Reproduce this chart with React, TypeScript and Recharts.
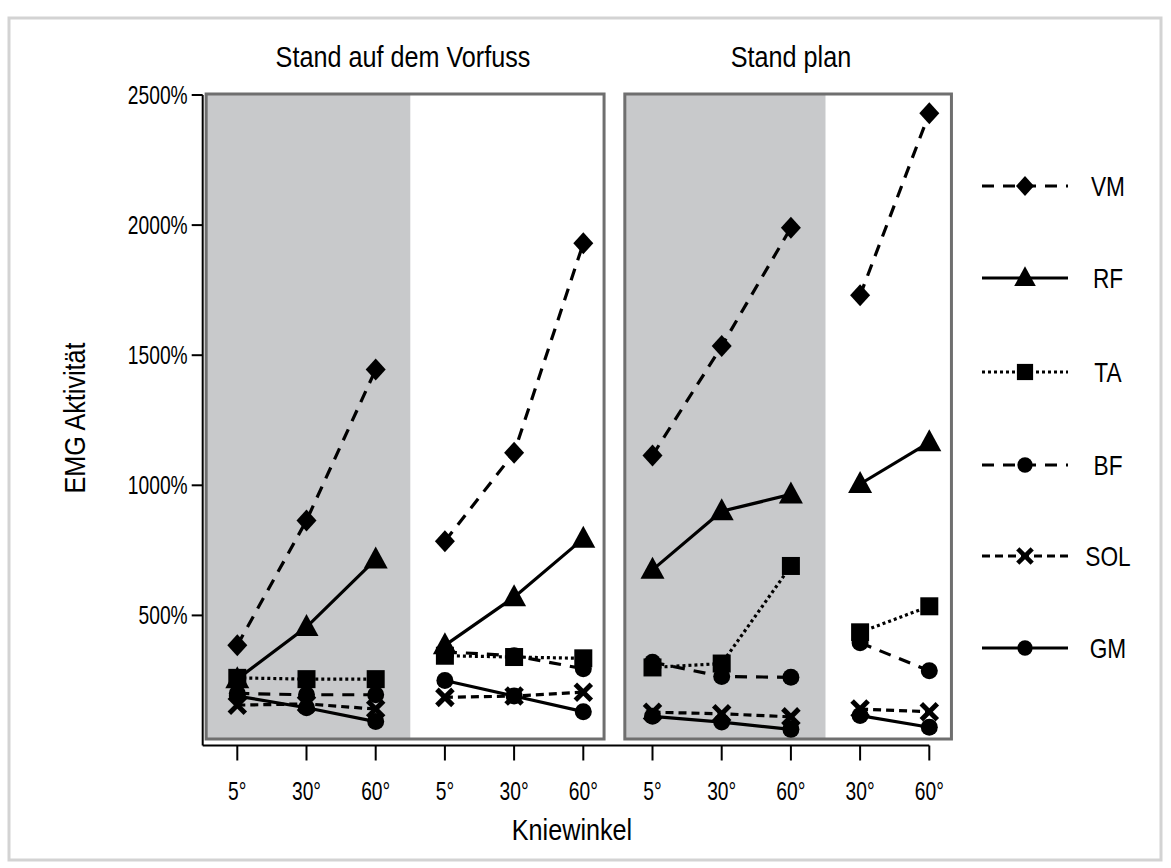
import React from "react";
import { LineChart, Line, XAxis, YAxis, ReferenceArea } from "recharts";

// knee angle per position, and which block (panel half) each position belongs to
const angleLabels = ["5°", "30°", "60°", "5°", "30°", "60°", "5°", "30°", "60°", "30°", "60°"];
const blockOfPosition = [0, 0, 0, 1, 1, 1, 2, 2, 2, 3, 3];
const panelTitles = ["Stand auf dem Vorfuss", "Stand plan"];
const muscles = ["VM", "RF", "TA", "BF", "SOL", "GM"];

// EMG activity in %
const vm = [385, 865, 1445, 785, 1125, 1930, 1115, 1535, 1990, 1730, 2430];
const rf = [255, 455, 715, 385, 570, 795, 675, 900, 965, 1005, 1165];
const ta = [260, 255, 255, 345, 340, 335, 300, 315, 690, 435, 535];
const bf = [200, 195, 195, 360, 345, 295, 320, 265, 262, 395, 287];
const sol = [155, 160, 140, 185, 190, 205, 128, 122, 110, 140, 130];
const gm = [190, 145, 92, 250, 190, 130, 112, 90, 62, 115, 70];

const yTicks = [500, 1000, 1500, 2000, 2500];

const FONT = "'Liberation Sans', Arial, sans-serif";

const values: Record<string, number[]> = { VM: vm, RF: rf, TA: ta, BF: bf, SOL: sol, GM: gm };

const styles: Record<string, { dash?: string; marker: string }> = {
  VM: { dash: "12 9", marker: "diamond" },
  RF: { marker: "triangle" },
  TA: { dash: "3 3", marker: "square" },
  BF: { dash: "12 9", marker: "circle" },
  SOL: { dash: "8 5", marker: "cross" },
  GM: { marker: "circle" },
};

const data = angleLabels.map((label, i) => {
  const row: any = { pos: i, label };
  muscles.forEach((m) => {
    for (let b = 0; b < 4; b++) {
      row[`${m}_${b}`] = blockOfPosition[i] === b ? values[m][i] : null;
    }
  });
  return row;
});

function Marker({ kind, cx, cy, s = 1 }: { kind: string; cx: number; cy: number; s?: number }) {
  if (kind === "diamond")
    return (
      <polygon
        points={`${cx},${cy - 11 * s} ${cx + 10 * s},${cy} ${cx},${cy + 11 * s} ${cx - 10 * s},${cy}`}
        fill="#000"
      />
    );
  if (kind === "triangle")
    return (
      <polygon
        points={`${cx},${cy - 13 * s} ${cx + 12 * s},${cy + 9 * s} ${cx - 12 * s},${cy + 9 * s}`}
        fill="#000"
      />
    );
  if (kind === "square")
    return <rect x={cx - 9 * s} y={cy - 9 * s} width={18 * s} height={18 * s} fill="#000" />;
  if (kind === "circle") return <circle cx={cx} cy={cy} r={8.5 * s} fill="#000" />;
  const d = 8 * s;
  return (
    <g stroke="#000" strokeWidth={5 * s}>
      <line x1={cx - d} y1={cy - d} x2={cx + d} y2={cy + d} />
      <line x1={cx - d} y1={cy + d} x2={cx + d} y2={cy - d} />
    </g>
  );
}

function renderDot(p: any, kind: string) {
  const { cx, cy, index, value } = p;
  if (value == null || cy == null || isNaN(cy)) return <g key={`e-${index}`} />;
  return (
    <g key={`d-${index}`}>
      <Marker kind={kind} cx={cx} cy={cy} />
    </g>
  );
}

// the original lettering is narrow and tall, so squeeze it horizontally
function Label({ x, y, text, size, squeeze = 0.84, anchor = "middle", rotate = 0 }: any) {
  return (
    <text
      transform={`translate(${x},${y}) rotate(${rotate}) scale(${squeeze},1)`}
      fontSize={size}
      fontFamily={FONT}
      fill="#000"
      textAnchor={anchor}
      dominantBaseline="central"
    >
      {text}
    </text>
  );
}

const XTick = (p: any) => (
  <Label x={p.x} y={p.y + 8} text={angleLabels[p.payload.value]} size={26} squeeze={0.74} />
);
const YTick = (p: any) => (
  <Label x={p.x} y={p.y} text={`${p.payload.value}%`} size={26} squeeze={0.74} anchor="end" />
);

const legendRows = [186, 278, 372, 465, 556, 648];

export default function App() {
  const lines: any[] = [];
  // draw bottom series first so the big markers sit on top
  [...muscles].reverse().forEach((m) => {
    for (let b = 0; b < 4; b++) {
      lines.push(
        <Line
          key={`${m}_${b}`}
          dataKey={`${m}_${b}`}
          stroke="#000"
          strokeWidth={3.2}
          strokeDasharray={styles[m].dash}
          dot={(p: any) => renderDot(p, styles[m].marker)}
          activeDot={false}
          connectNulls={false}
          isAnimationActive={false}
        />
      );
    }
  });

  return (
    <div style={{ position: "absolute", left: 0, top: 0, width: 1171, height: 868, background: "#fff" }}>
      <LineChart
        width={1171}
        height={868}
        data={data}
        margin={{ top: 95, right: 241.7, bottom: 62.5, left: 0 }}
      >
        <XAxis
          type="number"
          dataKey="pos"
          domain={[-0.5, 10]}
          ticks={[0, 1, 2, 3, 4, 5, 6, 7, 8, 9, 10]}
          interval={0}
          height={60}
          tickSize={15}
          tickMargin={22}
          axisLine={{ stroke: "#000", strokeWidth: 2 }}
          tickLine={{ stroke: "#000", strokeWidth: 2 }}
          tick={<XTick />}
        />
        <YAxis
          type="number"
          domain={[0, 2500]}
          ticks={yTicks}
          interval={0}
          width={202.7}
          tickSize={11}
          tickMargin={4}
          axisLine={{ stroke: "#000", strokeWidth: 2 }}
          tickLine={{ stroke: "#000", strokeWidth: 2 }}
          tick={<YTick />}
        />
        <ReferenceArea x1={-0.45} x2={2.5} y1={25} y2={2504} fill="#c8c9cb" fillOpacity={1} stroke="none" ifOverflow="visible" />
        <ReferenceArea x1={5.6} x2={8.5} y1={25} y2={2504} fill="#c8c9cb" fillOpacity={1} stroke="none" ifOverflow="visible" />
        <ReferenceArea x1={-0.45} x2={5.3} y1={25} y2={2504} fill="none" stroke="#6f6f6f" strokeWidth={3} ifOverflow="visible" />
        <ReferenceArea x1={5.6} x2={10.32} y1={25} y2={2504} fill="none" stroke="#6f6f6f" strokeWidth={3} ifOverflow="visible" />
        {lines}
      </LineChart>

      <svg
        width={1171}
        height={868}
        style={{ position: "absolute", left: 0, top: 0, pointerEvents: "none" }}
      >
        <rect x={9} y={18} width={1152} height={842} fill="none" stroke="#d3d3d3" strokeWidth={3} />
        <Label x={403} y={57} text={panelTitles[0]} size={30} />
        <Label x={791} y={57} text={panelTitles[1]} size={30} />
        <Label x={572} y={830} text="Kniewinkel" size={30} />
        <Label x={75} y={418} text="EMG Aktivität" size={30} rotate={-90} />
        {muscles.map((m, i) => (
          <g key={m}>
            <line
              x1={982}
              x2={1068}
              y1={legendRows[i]}
              y2={legendRows[i]}
              stroke="#000"
              strokeWidth={3.2}
              strokeDasharray={styles[m].dash}
            />
            <Marker kind={styles[m].marker} cx={1025} cy={legendRows[i]} s={0.9} />
            <Label x={1108} y={legendRows[i]} text={m} size={27} />
          </g>
        ))}
      </svg>
    </div>
  );
}
